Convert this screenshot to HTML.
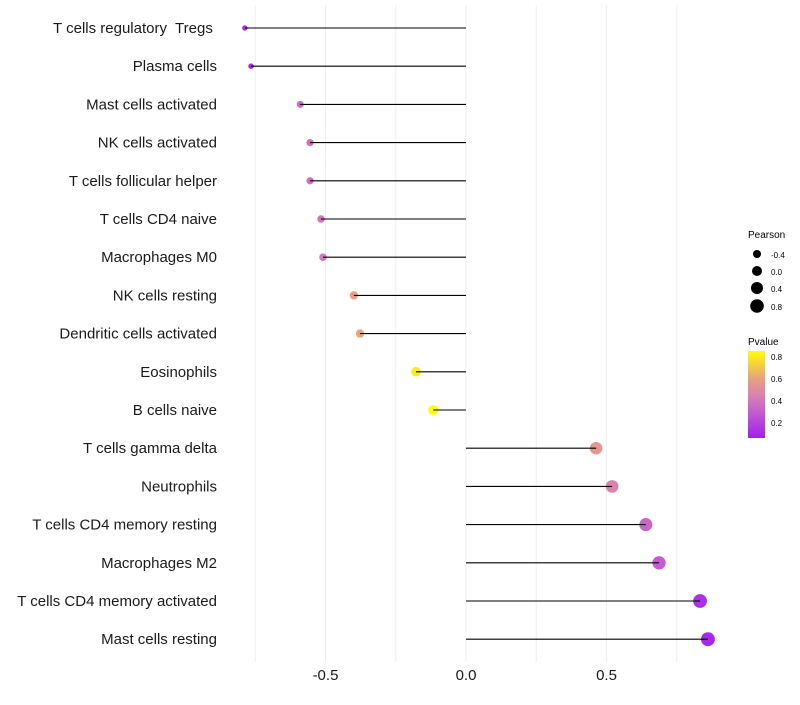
<!DOCTYPE html>
<html><head><meta charset="utf-8"><style>
body{margin:0;background:#fff;}
svg text{font-family:"Liberation Sans",sans-serif;white-space:pre;}
</style></head><body>
<svg id="chart" width="800" height="700">
<defs>
<linearGradient id="pgrad" x1="0" y1="1" x2="0" y2="0">
<stop offset="0" stop-color="#A020F0"/><stop offset="0.3" stop-color="#C55CCF"/><stop offset="0.49" stop-color="#DA80B0"/><stop offset="0.68" stop-color="#E8A080"/><stop offset="1" stop-color="#FFFF00"/>
</linearGradient>
</defs>
<g id="grid"></g>
<g id="marks"></g>
<g id="ylabels"></g>
<g id="xlabels"></g>
<g>
<text x="748" y="238" font-size="10" fill="#000">Pearson</text>
<circle cx="757" cy="254" r="4" fill="#000"/><text x="771" y="258" font-size="8">-0.4</text>
<circle cx="757" cy="271" r="5" fill="#000"/><text x="771" y="275" font-size="8">0.0</text>
<circle cx="757" cy="288" r="6" fill="#000"/><text x="771" y="292" font-size="8">0.4</text>
<circle cx="757" cy="306" r="6.8" fill="#000"/><text x="771" y="310" font-size="8">0.8</text>
</g>
<g>
<text x="748" y="345" font-size="10" fill="#000">Pvalue</text>
<rect x="748" y="351" width="17" height="87" fill="url(#pgrad)"/>
<text x="771" y="360" font-size="8">0.8</text>
<text x="771" y="382" font-size="8">0.6</text>
<text x="771" y="404" font-size="8">0.4</text>
<text x="771" y="426" font-size="8">0.2</text>
</g>
</svg>
<script>
const categories=["T cells regulatory  Tregs ","Plasma cells","Mast cells activated","NK cells activated","T cells follicular helper","T cells CD4 naive","Macrophages M0","NK cells resting","Dendritic cells activated","Eosinophils","B cells naive","T cells gamma delta","Neutrophils","T cells CD4 memory resting","Macrophages M2","T cells CD4 memory activated","Mast cells resting"];
const pearson=[-0.787,-0.765,-0.59,-0.555,-0.555,-0.516,-0.509,-0.399,-0.377,-0.178,-0.117,0.463,0.52,0.64,0.687,0.833,0.861];
const pvalue=[0.12,0.13,0.36,0.38,0.39,0.4,0.42,0.6,0.61,0.8,0.87,0.55,0.46,0.34,0.3,0.13,0.1];
const xTicks=[-0.5,0,0.5];
const xTickLabels=["-0.5","0.0","0.5"];
const gridVals=[-0.75,-0.5,-0.25,0,0.25,0.5,0.75];
const NS="http://www.w3.org/2000/svg";
function xs(v){return 466+v*281;}
function ys(i){return 28+i*38.2;}
function rs(v){return Math.sqrt(Math.max(4,27+25*v));}
const stops=[[0.064,[160,32,240]],[0.3,[197,92,207]],[0.45,[218,128,176]],[0.6,[232,160,128]],[0.855,[255,255,0]]];
function col(p){if(p<=stops[0][0])return "rgb("+stops[0][1]+")";for(let k=1;k<stops.length;k++){if(p<=stops[k][0]){const a=stops[k-1],b=stops[k],t=(p-a[0])/(b[0]-a[0]);return "rgb("+a[1].map((c,j)=>Math.round(c+(b[1][j]-c)*t)).join(",")+")";}}return "rgb(255,255,0)";}
function mk(tag,attrs,parent){const e=document.createElementNS(NS,tag);for(const k in attrs)e.setAttribute(k,attrs[k]);parent.appendChild(e);return e;}
const grid=document.getElementById('grid'),marks=document.getElementById('marks'),yl=document.getElementById('ylabels'),xl=document.getElementById('xlabels');
gridVals.forEach(v=>{const l=mk('line',{x1:xs(v),x2:xs(v),y1:5,y2:662,stroke:'#efefef','stroke-width':1},grid);

});
categories.forEach((c,i)=>{
const y=ys(i);
const pt=mk('circle',{cx:xs(pearson[i]),cy:y,r:rs(pearson[i]),fill:col(pvalue[i])},marks);


const ln=mk('line',{x1:xs(0),x2:xs(pearson[i]),y1:y,y2:y,stroke:'#000','stroke-width':1.1},marks);


const t=mk('text',{x:217,y:y+5,'text-anchor':'end','font-size':15,fill:'#1a1a1a'},yl);
t.textContent=c;


});
xTicks.forEach((v,i)=>{const t=mk('text',{x:xs(v),y:680,'text-anchor':'middle','font-size':15,fill:'#1a1a1a'},xl);
t.textContent=xTickLabels[i];

});
</script>
</body></html>
